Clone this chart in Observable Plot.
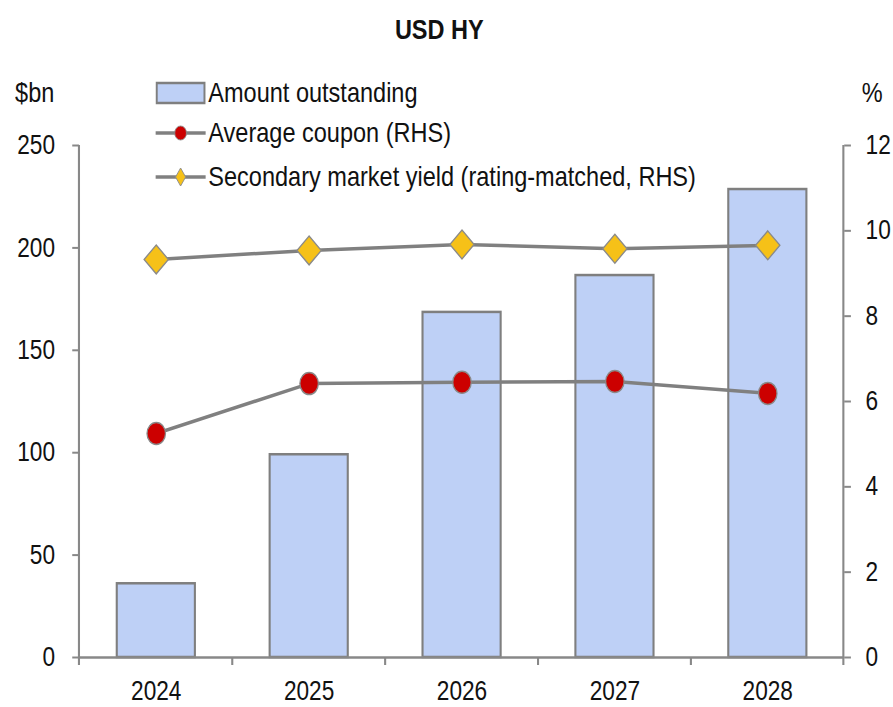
<!DOCTYPE html>
<html><head><meta charset="utf-8">
<script src="https://cdn.jsdelivr.net/npm/d3@7"></script>
<script src="https://cdn.jsdelivr.net/npm/@observablehq/plot@0.6"></script>
<style>
html,body{margin:0;padding:0;background:#fff;overflow:hidden;}
#wrap{position:relative;width:1063px;height:707px;transform:scaleX(0.84);transform-origin:0 0;font-family:"Liberation Sans",Arial,sans-serif;color:#111;}
#wrap > svg{position:absolute;left:0;top:0;}
.abs{position:absolute;white-space:nowrap;line-height:1;font-size:28px;z-index:1;}
.row{position:absolute;left:185px;height:28px;display:flex;align-items:center;font-size:28px;line-height:1;white-space:nowrap;z-index:1;}
.row svg{display:block;margin-right:3px;flex:none;}
g[aria-label="y-axis tick"]{stroke:#888;}
</style></head>
<body>
<div id="wrap">
  <div class="abs" style="left:0;width:1046px;text-align:center;top:16px;font-weight:bold;">USD HY</div>
  <div class="abs" style="left:18px;top:79px;">$bn</div>
  <div class="abs" style="left:1026px;top:79px;">%</div>
  <div class="row" style="top:79px;">
    <svg width="60" height="28"><rect x="1.5" y="4" width="57" height="20" fill="#bed0f6" stroke="#7f7f7f" stroke-width="2.5"/></svg>
    <span>Amount outstanding</span>
  </div>
  <div class="row" style="top:119px;">
    <svg width="60" height="28"><line x1="0" x2="60" y1="14" y2="14" stroke="#808080" stroke-width="3.5"/><circle cx="30" cy="14" r="7" fill="#cc0000" stroke="#8a8a8a" stroke-width="1"/></svg>
    <span>Average coupon (RHS)</span>
  </div>
  <div class="row" style="top:163px;">
    <svg width="60" height="28"><line x1="0" x2="60" y1="14" y2="14" stroke="#808080" stroke-width="3.5"/><path d="M30,5 L36,14 L30,23 L24,14 Z" fill="#f6c118" stroke="#8a8a8a" stroke-width="1"/></svg>
    <span>Secondary market yield (rating-matched, RHS)</span>
  </div>
</div>
<script>
const years = ["2024", "2025", "2026", "2027", "2028"];
const amount = [36, 99, 168.5, 186.5, 228.5];
const coupon = [5.25, 6.42, 6.45, 6.47, 6.19];
const secYield = [9.33, 9.54, 9.68, 9.58, 9.66];
const leftTicks = [0, 50, 100, 150, 200, 250];
const rightTicks = [0, 2, 4, 6, 8, 10, 12];
const leftMax = 250, rightMax = 12;

const rows = years.map((y, i) => ({year: y, amount: amount[i], coupon: coupon[i], secYield: secYield[i]}));
const toLeft = v => v * leftMax / rightMax;

const plot = Plot.plot({
  width: 1063, height: 707,
  marginLeft: 94, marginRight: 59, marginTop: 145, marginBottom: 50,
  x: {domain: years, paddingInner: 0.49, paddingOuter: 0.245, label: null},
  y: {domain: [0, leftMax], label: null},
  style: {fontFamily: '"Liberation Sans", Arial, sans-serif', fontSize: "27px", color: "#111", background: "transparent", overflow: "visible"},
  marks: [
    Plot.barY(rows, {x: "year", y: "amount", fill: "#bed0f6", stroke: "#7f7f7f", strokeWidth: 2.5}),
    Plot.ruleY([0], {stroke: "#888", strokeWidth: 2.5}),
    Plot.line(rows, {x: "year", y: d => toLeft(d.coupon), stroke: "#808080", strokeWidth: 3.5}),
    Plot.line(rows, {x: "year", y: d => toLeft(d.secYield), stroke: "#808080", strokeWidth: 3.5}),
    Plot.dot(rows, {x: "year", y: d => toLeft(d.coupon), symbol: "circle", r: 11, fill: "#cc0000", stroke: "#8a8a8a", strokeWidth: 1.5}),
    Plot.dot(rows, {x: "year", y: d => toLeft(d.secYield), symbol: "diamond2", r: 13, fill: "#f6c118", stroke: "#8a8a8a", strokeWidth: 1.5}),
    Plot.axisY({anchor: "left", label: null, ticks: leftTicks, tickSize: 8, tickPadding: 21, strokeWidth: 2}),
    Plot.axisY({anchor: "right", label: null, ticks: rightTicks.map(toLeft), tickFormat: d => String(Math.round(d * rightMax / leftMax)), tickSize: 8, tickPadding: 18, strokeWidth: 2}),
    Plot.axisX({label: null, tickSize: 0, tickPadding: 23})
  ]
});
document.getElementById("wrap").appendChild(plot);

// axis lines and category-boundary ticks from the scales
const sx = plot.scale("x"), sy = plot.scale("y");
const svg = d3.select(plot);
const yTop = sy.apply(leftMax), yBot = sy.apply(0);
const xL = sx.range[0], xR = sx.range[1];
const g = svg.append("g").attr("stroke", "#888").attr("stroke-width", 2.5);
g.append("line").attr("x1", xL).attr("x2", xL).attr("y1", yTop).attr("y2", yBot + 8);
g.append("line").attr("x1", xR).attr("x2", xR).attr("y1", yTop).attr("y2", yBot + 8);
years.slice(1).forEach(y => {
  const bx = sx.apply(y) - (sx.step - sx.bandwidth) / 2;
  g.append("line").attr("x1", bx).attr("x2", bx).attr("y1", yBot).attr("y2", yBot + 8);
});
</script>
</body></html>
